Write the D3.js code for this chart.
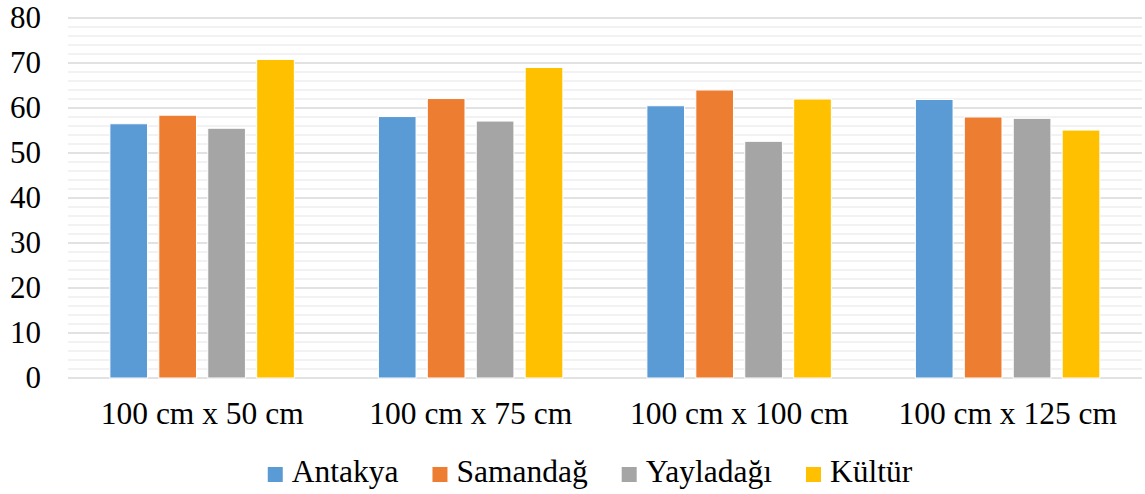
<!DOCTYPE html>
<html>
<head>
<meta charset="utf-8">
<script src="https://cdn.jsdelivr.net/npm/d3@7"></script>
<style>
  html, body { margin: 0; padding: 0; background: #ffffff; }
</style>
</head>
<body>
<svg id="chart" width="1145" height="494"></svg>
<script>
// Plot dimensions by category
const categories = ["100 cm x 50 cm", "100 cm x 75 cm", "100 cm x 100 cm", "100 cm x 125 cm"];
const seriesNames = ["Antakya", "Samandağ", "Yayladağı", "Kültür"];
const seriesColors = ["#5b9bd5", "#ed7d31", "#a5a5a5", "#ffc000"];

// One value per category for each location
const antakya   = [56.5, 58.1, 60.5, 61.9];
const samandag  = [58.4, 62.1, 64.0, 58.0];
const yayladagi = [55.5, 57.1, 52.6, 57.7];
const kultur    = [70.8, 69.0, 62.0, 55.1];

const yTicks = [0, 10, 20, 30, 40, 50, 60, 70, 80];

const seriesValues = [antakya, samandag, yayladagi, kultur];
const rows = categories.map((c, i) => ({
  category: c,
  values: seriesNames.map((s, j) => ({ series: s, idx: j, value: seriesValues[j][i] }))
}));

const FONT = "Liberation Serif, DejaVu Serif";
const svg = d3.select("#chart");
const margin = { left: 68, right: 3, top: 18, bottom: 116 };
const W = 1145, H = 494;
const plotW = W - margin.left - margin.right;
const plotH = H - margin.top - margin.bottom;

const g = svg.append("g").attr("transform", `translate(${margin.left},${margin.top})`);

const y = d3.scaleLinear().domain([0, 80]).range([plotH, 0]);
const x0 = d3.scaleBand().domain(categories).range([0, plotW]).padding(0);
const bw = x0.bandwidth();
const x1 = d3.scaleBand().domain(seriesNames)
  .range([bw * 0.156, bw * 0.843]).paddingInner(0.23).paddingOuter(0);

// Minor gridlines every 2 units
const minor = d3.range(2, 80, 2).filter(v => v % 10 !== 0);
g.append("g").selectAll("line").data(minor).join("line")
  .attr("x1", 0).attr("x2", plotW)
  .attr("y1", d => y(d)).attr("y2", d => y(d))
  .attr("stroke", "#eeeeee").attr("stroke-width", 1.5);

// Major gridlines every 10 units
g.append("g").selectAll("line").data(yTicks).join("line")
  .attr("x1", 0).attr("x2", plotW)
  .attr("y1", d => y(d)).attr("y2", d => y(d))
  .attr("stroke", "#d9d9d9").attr("stroke-width", 1.5);

// Y axis labels
const yAxis = d3.axisLeft(y).tickValues(yTicks).tickSize(0).tickPadding(27);
g.append("g").call(yAxis)
  .attr("font-family", FONT).attr("font-size", 31)
  .call(a => a.select(".domain").remove())
  .call(a => a.selectAll("text").attr("fill", "#000"));

// Bars
const groups = g.append("g").selectAll("g").data(rows).join("g")
  .attr("transform", d => `translate(${x0(d.category)},0)`);
groups.selectAll("rect").data(d => d.values).join("rect")
  .attr("x", d => x1(d.series))
  .attr("width", x1.bandwidth())
  .attr("y", d => y(d.value))
  .attr("height", d => y(0) - y(d.value))
  .attr("fill", d => seriesColors[d.idx])
  .attr("stroke", "#ffffff").attr("stroke-width", 1);

// Category axis labels
const xAxis = d3.axisBottom(x0).tickSize(0).tickPadding(24);
g.append("g").attr("transform", `translate(0,${plotH})`).call(xAxis)
  .attr("font-family", FONT).attr("font-size", 31.5)
  .call(a => a.select(".domain").remove())
  .call(a => a.selectAll("text").attr("fill", "#000"));

// Legend
const legend = svg.append("g").attr("font-family", FONT).attr("font-size", 31.5);
const items = legend.selectAll("g").data(seriesNames).join("g");
items.append("rect").attr("width", 15).attr("height", 15)
  .attr("y", -15).attr("fill", (d, i) => seriesColors[i]);
items.append("text").text(d => d).attr("x", 24).attr("y", 0).attr("fill", "#000");
let cursor = 0;
items.each(function () {
  const node = d3.select(this);
  const w = 24 + node.select("text").node().getComputedTextLength();
  node.attr("transform", `translate(${cursor},0)`);
  cursor += w + 34;
});
const legendW = cursor - 34;
legend.attr("transform", `translate(${590 - legendW / 2},482)`);
</script>
</body>
</html>
